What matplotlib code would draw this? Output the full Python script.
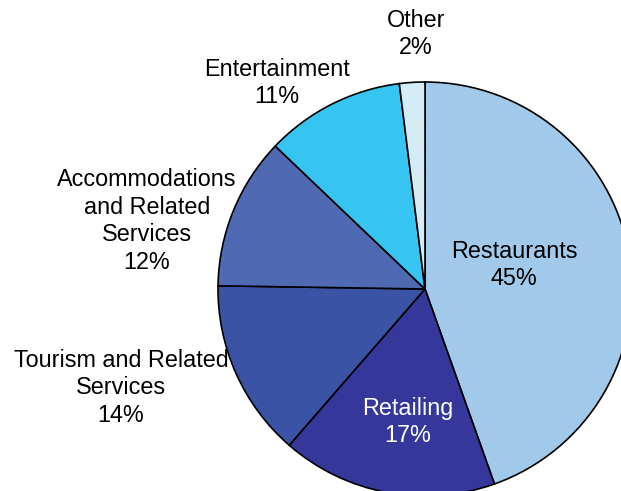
import matplotlib.pyplot as plt

plt.rcParams["font.family"] = ["Liberation Sans", "DejaVu Sans"]

# Market share by segment
segments = ["Restaurants", "Retailing", "Tourism and Related\nServices",
            "Accommodations\nand Related\nServices", "Entertainment", "Other"]
shares = [45, 17, 14, 12, 11, 2]
colors = ["#a0c9ea", "#35389a", "#3a53a4", "#4f69b3", "#36c5f1", "#d3ecf5"]

W, H = 621, 491
fig = plt.figure(figsize=(W / 100, H / 100), dpi=100)
ax = fig.add_axes([0, 0, 1, 1])

ax.pie(shares, colors=colors, startangle=90, counterclock=False,
       center=(425, H - 289), radius=207,
       wedgeprops=dict(edgecolor="black", linewidth=1.2))

# pie() resets the limits, so fix the pixel frame afterwards
ax.set_xlim(0, W)
ax.set_ylim(0, H)
ax.set_aspect("equal")
ax.axis("off")

# label positions in pixel space (y measured from the top)
label_pos = [(514, 265), (408, 422), (121, 388), (147, 221), (277, 83), (416, 34)]
label_col = ["black", "white", "black", "black", "black", "black"]
for name, val, (x, y), c in zip(segments, shares, label_pos, label_col):
    ax.text(x, H - y, f"{name}\n{val}%", ha="center", va="center",
            multialignment="center", fontsize=16.8, color=c, linespacing=1.25)

fig.savefig("out.png", dpi=100)
